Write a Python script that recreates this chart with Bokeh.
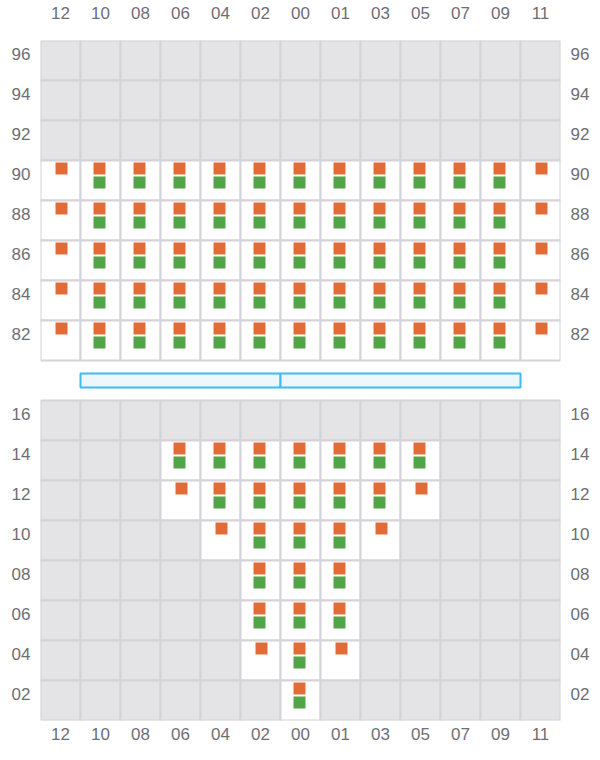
from bokeh.plotting import figure
from bokeh.models import LinearAxis, FixedTicker, ColumnDataSource, Range1d
from bokeh.embed import file_html
from bokeh.resources import INLINE

# ---------------- data ----------------
col_labels = ["12", "10", "08", "06", "04", "02", "00", "01", "03", "05", "07", "09", "11"]
upper_rows = ["96", "94", "92", "90", "88", "86", "84", "82"]
lower_rows = ["16", "14", "12", "10", "08", "06", "04", "02"]

# open (white) cells per row
upper_open = {
    "90": col_labels, "88": col_labels, "86": col_labels, "84": col_labels, "82": col_labels,
}
lower_open = {
    "14": ["06", "04", "02", "00", "01", "03", "05"],
    "12": ["06", "04", "02", "00", "01", "03", "05"],
    "10": ["04", "02", "00", "01", "03"],
    "08": ["02", "00", "01"],
    "06": ["02", "00", "01"],
    "04": ["02", "00", "01"],
    "02": ["00"],
}
# cells holding both an orange and a green mark
upper_pair = {r: ["10", "08", "06", "04", "02", "00", "01", "03", "05", "07", "09"]
              for r in ["90", "88", "86", "84", "82"]}
lower_pair = {
    "14": ["06", "04", "02", "00", "01", "03", "05"],
    "12": ["04", "02", "00", "01", "03"],
    "10": ["02", "00", "01"],
    "08": ["02", "00", "01"],
    "06": ["02", "00", "01"],
    "04": ["00"],
    "02": ["00"],
}
# cells holding only an orange mark
upper_single = {r: ["12", "11"] for r in ["90", "88", "86", "84", "82"]}
lower_single = {
    "12": ["06", "05"],
    "10": ["04", "03"],
    "04": ["02", "01"],
}

# ---------------- styling constants ----------------
GRAY_FILL = "#e4e4e7"
GRID_LINE = "#d4d4d8"
ORANGE = "#e16c37"
GREEN = "#53a448"
TEXT = "#6e6e76"
FONT = "Liberation Sans"
ROW_LABEL_SHIFT = 0.17  # row labels sit a little above the cell centre

# ---------------- coordinate helpers ----------------
xi = {c: i for i, c in enumerate(col_labels)}
yi = {}
for i, r in enumerate(reversed(lower_rows)):
    yi[r] = i
gap_y = len(lower_rows)
for i, r in enumerate(reversed(upper_rows)):
    yi[r] = gap_y + 1 + i

all_open = {}
all_open.update(upper_open)
all_open.update(lower_open)
all_pair = {}
all_pair.update(upper_pair)
all_pair.update(lower_pair)
all_single = {}
all_single.update(upper_single)
all_single.update(lower_single)

cx, cy, cfill = [], [], []
for r in upper_rows + lower_rows:
    for c in col_labels:
        cx.append(xi[c])
        cy.append(yi[r])
        cfill.append("#ffffff" if c in all_open.get(r, []) else GRAY_FILL)

ox, oy, gx, gy = [], [], [], []
for r, cols in all_pair.items():
    for c in cols:
        ox.append(xi[c] - 0.025)
        oy.append(yi[r] + 0.3)
        gx.append(xi[c] - 0.025)
        gy.append(yi[r] - 0.05)
for r, cols in all_single.items():
    for c in cols:
        ox.append(xi[c] + 0.025)
        oy.append(yi[r] + 0.3)

n_cols = len(col_labels)
n_y = len(lower_rows) + 1 + len(upper_rows)

p = figure(width=600, height=760, output_backend="svg", toolbar_location=None,
           x_axis_type=None, y_axis_type=None,
           x_range=Range1d(-0.5, n_cols - 0.5), y_range=Range1d(-0.5, n_y - 0.5),
           min_border_left=40, min_border_right=40, min_border_top=40, min_border_bottom=40)
p.outline_line_color = None
p.xgrid.visible = False
p.ygrid.visible = False
p.background_fill_color = "#ffffff"

p.rect(x="x", y="y", width=1, height=1, fill_color="fill", line_color=GRID_LINE, line_width=2,
       source=ColumnDataSource(dict(x=cx, y=cy, fill=cfill)))

# blue divider bar in the gap
bar_left = [xi["10"] - 0.5, xi["00"] - 0.5]
bar_right = [xi["00"] - 0.5, xi["11"] - 0.5]
p.quad(left=bar_left, right=bar_right, bottom=[gap_y - 0.175] * 2, top=[gap_y + 0.175] * 2,
       fill_color="#eef6fe", line_color="#3dbbf2", line_width=2)

p.scatter(x=ox, y=oy, marker="square", size=12, fill_color=ORANGE, line_color=None)
p.scatter(x=gx, y=gy, marker="square", size=12, fill_color=GREEN, line_color=None)

x_over = {i: c for i, c in enumerate(col_labels)}
y_over = {yi[r] + ROW_LABEL_SHIFT: r for r in upper_rows + lower_rows}


def style(ax, standoff):
    ax.axis_line_color = None
    ax.major_tick_line_color = None
    ax.minor_tick_line_color = None
    ax.major_tick_out = 0
    ax.major_tick_in = 0
    ax.major_label_standoff = standoff
    ax.major_label_text_font = FONT
    ax.major_label_text_font_size = "17px"
    ax.major_label_text_color = TEXT


for loc, st in (("above", 22), ("below", 7)):
    ax = LinearAxis(ticker=FixedTicker(ticks=list(x_over.keys())), major_label_overrides=x_over)
    style(ax, st)
    p.add_layout(ax, loc)
for loc in ("left", "right"):
    ax = LinearAxis(ticker=FixedTicker(ticks=list(y_over.keys())), major_label_overrides=y_over)
    style(ax, 10)
    p.add_layout(ax, loc)

open("out.html", "w").write(file_html(p, INLINE))
